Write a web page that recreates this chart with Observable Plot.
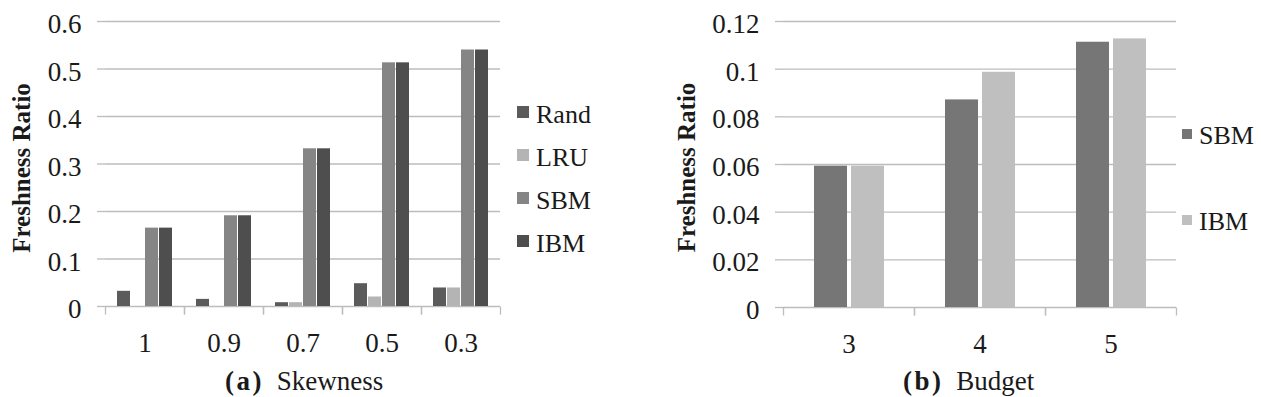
<!DOCTYPE html>
<html><head><meta charset="utf-8">
<script src="https://cdn.jsdelivr.net/npm/d3@7"></script>
<script src="https://cdn.jsdelivr.net/npm/@observablehq/plot@0.6"></script>
<style>
html,body{margin:0;padding:0;background:#fff;overflow:hidden;}
#root{position:relative;width:1261px;height:397px;font-family:"Liberation Serif","Times New Roman",serif;color:#1a1a1a;}
.panel{position:absolute;top:0;}
.legtext{position:absolute;font-size:26px;line-height:26px;white-space:nowrap;}
.sw{position:absolute;}
.cap{position:absolute;font-size:27px;line-height:27px;white-space:nowrap;word-spacing:6px;}
.cap b{letter-spacing:2.5px;}
</style></head><body><div id="root"></div>
<script>
// ---- (a) Skewness ----
const skewCategories = ["1", "0.9", "0.7", "0.5", "0.3"];
const skewSeries = ["Rand", "LRU", "SBM", "IBM"];
const skewRand = [0.032, 0.015, 0.008, 0.048, 0.039];
const skewLRU  = [0.000, 0.000, 0.008, 0.020, 0.039];
const skewSBM  = [0.165, 0.191, 0.332, 0.513, 0.540];
const skewIBM  = [0.165, 0.191, 0.332, 0.513, 0.540];
const skewColors = ["#5b5b5b", "#b4b4b4", "#858585", "#4e4e4e"];
const skewTicks = [0, 0.1, 0.2, 0.3, 0.4, 0.5, 0.6];

// ---- (b) Budget ----
const budgetCategories = ["3", "4", "5"];
const budgetSeries = ["SBM", "IBM"];
const budgetSBM = [0.0593, 0.0871, 0.1113];
const budgetIBM = [0.0593, 0.0987, 0.1127];
const budgetColors = ["#767676", "#bfbfbf"];
const budgetTicks = [0, 0.02, 0.04, 0.06, 0.08, 0.1, 0.12];

const yTitle = "Freshness Ratio";

function toRows(cats, series, values) {
  return cats.flatMap((c, i) => series.map((s, k) => ({cat: c, series: s, value: values[k][i]})));
}

const GRID = "#bdbdbd";
const tickSymbol = {draw(ctx) { ctx.moveTo(0, 0); ctx.lineTo(0, 8); }};

function chart(o) {
  return Plot.plot({
    width: o.width, height: 360,
    marginTop: 21, marginBottom: o.marginBottom, marginLeft: o.marginLeft, marginRight: o.marginRight,
    style: {fontFamily: "'Liberation Serif', 'Times New Roman', serif", fontSize: "27px", color: "#1a1a1a", background: "transparent", overflow: "visible"},
    fx: {domain: o.cats, padding: 0},
    x: {domain: o.series, axis: null, paddingInner: o.paddingInner, paddingOuter: o.paddingOuter},
    y: {domain: [0, o.ticks[o.ticks.length - 1]]},
    color: {domain: o.series, range: o.colors},
    marks: [
      Plot.ruleY(o.ticks, {stroke: GRID, strokeWidth: 1.3}),
      Plot.dot([0], {frameAnchor: "bottom-left", symbol: tickSymbol, stroke: GRID, strokeWidth: 1.3, fill: "none"}),
      Plot.dot([0], {frameAnchor: "bottom-right", symbol: tickSymbol, stroke: GRID, strokeWidth: 1.3, fill: "none"}),
      Plot.axisY({ticks: o.ticks, tickSize: 8, tickFormat: () => "", line: true, stroke: GRID, strokeWidth: 1.3, label: null}),
      Plot.axisY({ticks: o.ticks, tickSize: 0, tickPadding: 24, tickFormat: d => String(d), dy: 3, label: null}),
      Plot.axisFx({anchor: "bottom", tickSize: 0, tickPadding: 26, label: null}),
      Plot.barY(o.rows, {fx: "cat", x: "series", y: "value", fill: "series"}),
      Plot.text([yTitle], {frameAnchor: "left", facetAnchor: "left", dx: o.titleDx, dy: o.titleDy, rotate: -90,
        textAnchor: "middle", lineAnchor: "middle", fontWeight: "bold", fontSize: 25, text: d => d})
    ]
  });
}

const root = document.getElementById("root");

const left = chart({
  rows: toRows(skewCategories, skewSeries, [skewRand, skewLRU, skewSBM, skewIBM]),
  cats: skewCategories, series: skewSeries, colors: skewColors, ticks: skewTicks,
  width: 520, marginLeft: 105, marginRight: 20, marginBottom: 54,
  paddingInner: 0.08, paddingOuter: 0.75, titleDx: -84, titleDy: 4
});
left.classList.add("panel"); left.style.left = "0px";
root.appendChild(left);

const right = chart({
  rows: toRows(budgetCategories, budgetSeries, [budgetSBM, budgetIBM]),
  cats: budgetCategories, series: budgetSeries, colors: budgetColors, ticks: budgetTicks,
  width: 641, marginLeft: 162, marginRight: 84, marginBottom: 53,
  paddingInner: 0.11, paddingOuter: 0.78, titleDx: -97, titleDy: 3
});
right.classList.add("panel"); right.style.left = "620px";
root.appendChild(right);

// legends
function legend(series, colors, cfg) {
  series.forEach((s, i) => {
    const c = cfg.centers[i];
    const sw = document.createElement("div");
    sw.className = "sw";
    Object.assign(sw.style, {left: cfg.swX + "px", top: (c - cfg.sw / 2 - cfg.swLift) + "px", width: cfg.sw + "px", height: cfg.sw + "px", background: colors[i]});
    root.appendChild(sw);
    const t = document.createElement("div");
    t.className = "legtext";
    Object.assign(t.style, {left: cfg.textX + "px", top: (c - 13) + "px"});
    t.textContent = s;
    root.appendChild(t);
  });
}
legend(skewSeries, skewColors, {centers: [115, 158, 201, 244], swX: 517, sw: 12, swLift: 3, textX: 536});
legend(budgetSeries, budgetColors, {centers: [136, 222], swX: 1182, sw: 10, swLift: 2.5, textX: 1199});

// captions
function caption(label, name, x) {
  const d = document.createElement("div");
  d.className = "cap";
  Object.assign(d.style, {left: x + "px", top: "368px"});
  const b = document.createElement("b");
  b.textContent = label;
  d.appendChild(b);
  d.appendChild(document.createTextNode(" " + name));
  root.appendChild(d);
}
caption("(a)", "Skewness", 225);
caption("(b)", "Budget", 903);
</script>
</body></html>
